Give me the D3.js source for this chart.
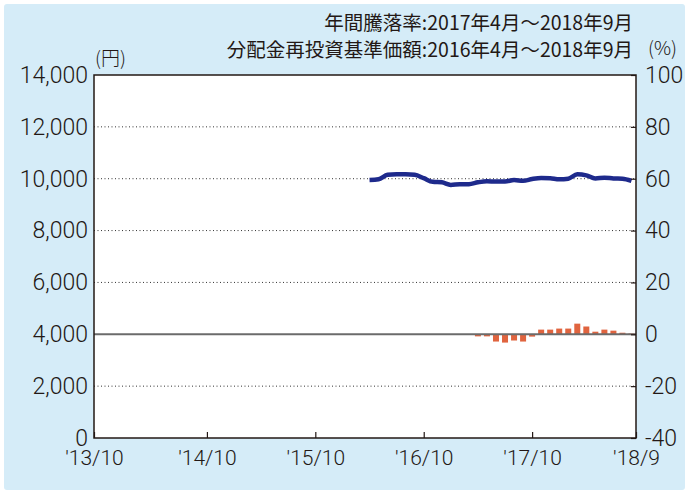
<!DOCTYPE html>
<html>
<head>
<meta charset="utf-8">
<script src="https://cdn.jsdelivr.net/npm/d3@7"></script>
<style>
  body { margin: 0; background: #fff; }
  svg { display: block; }
  text { font-family: "Noto Sans CJK JP", "Noto Sans", sans-serif; fill: #231815; }
</style>
</head>
<body>
<div id="chart"></div>
<script>
// 分配金再投資基準価額 (円), monthly 2016/4 - 2018/9
var navMonths = ["2016/4","2016/5","2016/6","2016/7","2016/8","2016/9","2016/10","2016/11","2016/12",
  "2017/1","2017/2","2017/3","2017/4","2017/5","2017/6","2017/7","2017/8","2017/9","2017/10","2017/11","2017/12",
  "2018/1","2018/2","2018/3","2018/4","2018/5","2018/6","2018/7","2018/8","2018/9"];
var navValues = [9950, 9980, 10150, 10170, 10170, 10150, 10020, 9880, 9860,
  9760, 9790, 9790, 9860, 9900, 9890, 9890, 9950, 9920, 9990, 10030, 10020,
  9980, 10000, 10170, 10130, 10010, 10040, 10010, 10000, 9920];

// 年間騰落率 (%), monthly 2017/4 - 2018/9
var retMonths = ["2017/4","2017/5","2017/6","2017/7","2017/8","2017/9","2017/10","2017/11","2017/12",
  "2018/1","2018/2","2018/3","2018/4","2018/5","2018/6","2018/7","2018/8","2018/9"];
var retValues = [-0.8, -0.8, -2.8, -3.2, -2.4, -2.8, -0.9, 1.8, 1.8,
  2.2, 2.2, 4.1, 3.0, 1.0, 1.8, 1.4, 0.6, 0.3];

var xTickValues = ["2013/10", "2014/10", "2015/10", "2016/10", "2017/10", "2018/9"];
var xTickLabels = ["'13/10", "'14/10", "'15/10", "'16/10", "'17/10", "'18/9"];
var leftTicks = [0, 2000, 4000, 6000, 8000, 10000, 12000, 14000];
var rightTicks = [-40, -20, 0, 20, 40, 60, 80, 100];

var width = 689, height = 493;
var plot = { left: 94, right: 636, top: 75, bottom: 438 };
var numFont = "Roboto, 'Liberation Sans', sans-serif";

// month index relative to 2013/10
function monthIndex(s) {
  var p = s.split("/");
  return (+p[0] - 2013) * 12 + (+p[1] - 10);
}

var svg = d3.select("#chart").append("svg")
  .attr("width", width)
  .attr("height", height);

// background panel
svg.append("rect")
  .attr("x", 4).attr("y", 4)
  .attr("width", width - 8).attr("height", height - 7)
  .attr("rx", 3)
  .attr("fill", "#d5ecf8");

svg.append("rect")
  .attr("x", plot.left).attr("y", plot.top)
  .attr("width", plot.right - plot.left).attr("height", plot.bottom - plot.top)
  .attr("fill", "#fff");

var x = d3.scaleLinear().domain([-0.5, 59.5]).range([plot.left, plot.right]);
var yL = d3.scaleLinear().domain([0, 14000]).range([plot.bottom, plot.top]);
var yR = d3.scaleLinear().domain([-40, 100]).range([plot.bottom, plot.top]);

// dotted grid
svg.append("g")
  .selectAll("line")
  .data(leftTicks.filter(function (d) { return d > 0 && d < 14000 && d !== 4000; }))
  .enter().append("line")
  .attr("x1", plot.left).attr("x2", plot.right)
  .attr("y1", function (d) { return yL(d); })
  .attr("y2", function (d) { return yL(d); })
  .attr("stroke", "#333")
  .attr("stroke-width", 1)
  .attr("stroke-dasharray", "1,2.5");

// bars
var barW = 6;
svg.append("g")
  .selectAll("rect")
  .data(retValues)
  .enter().append("rect")
  .attr("x", function (d, i) { return x(monthIndex(retMonths[i])) - barW / 2; })
  .attr("y", function (d) { return yR(Math.max(0, d)); })
  .attr("width", barW)
  .attr("height", function (d) { return Math.abs(yR(d) - yR(0)); })
  .attr("fill", "#e0643f");

// zero line
svg.append("line")
  .attr("x1", plot.left).attr("x2", plot.right)
  .attr("y1", yR(0)).attr("y2", yR(0))
  .attr("stroke", "#6b6b6b")
  .attr("stroke-width", 2);

// line
var line = d3.line()
  .x(function (d, i) { return x(monthIndex(navMonths[i])); })
  .y(function (d) { return yL(d); })
  .curve(d3.curveMonotoneX);

svg.append("path")
  .datum(navValues)
  .attr("d", line)
  .attr("fill", "none")
  .attr("stroke", "#1e2a8c")
  .attr("stroke-width", 4.5)
  .attr("stroke-linejoin", "round");

// frame
svg.append("rect")
  .attr("x", plot.left).attr("y", plot.top)
  .attr("width", plot.right - plot.left).attr("height", plot.bottom - plot.top)
  .attr("fill", "none")
  .attr("stroke", "#231815")
  .attr("stroke-width", 1.5);

// axes
var leftAxis = d3.axisLeft(yL)
  .tickValues(leftTicks)
  .tickSize(0)
  .tickPadding(6)
  .tickFormat(d3.format(","));
var gL = svg.append("g")
  .attr("transform", "translate(" + plot.left + ",0)")
  .call(leftAxis);

var rightAxis = d3.axisRight(yR)
  .tickValues(rightTicks)
  .tickSizeInner(-5)
  .tickSizeOuter(0)
  .tickPadding(9)
  .tickFormat(function (d) { return String(d); });
var gR = svg.append("g")
  .attr("transform", "translate(" + plot.right + ",0)")
  .call(rightAxis);

var xIdx = xTickValues.map(function (s, i) {
  if (i === 0) return -0.5;
  if (i === xTickValues.length - 1) return 59.5;
  return monthIndex(s);
});
var bottomAxis = d3.axisBottom(x)
  .tickValues(xIdx)
  .tickSizeInner(-6)
  .tickSizeOuter(0)
  .tickPadding(12)
  .tickFormat(function (d, i) { return xTickLabels[i]; });
var gB = svg.append("g")
  .attr("transform", "translate(0," + plot.bottom + ")")
  .call(bottomAxis);

[gL, gR, gB].forEach(function (g) {
  g.select(".domain").remove();
  g.selectAll(".tick line").attr("stroke", "#231815").attr("stroke-width", 1.2);
  g.selectAll(".tick text")
    .attr("fill", "#231815")
    .style("font-size", "23px")
    .style("font-weight", "300")
    .style("font-family", numFont);
});
gB.selectAll(".tick text").style("font-size", "21px");

// units and header
svg.append("text")
  .attr("x", 95).attr("y", 65)
  .style("font-size", "19px")
  .style("font-weight", "300")
  .text("(円)");

svg.append("text")
  .attr("x", 648).attr("y", 55)
  .style("font-size", "19px")
  .style("font-weight", "300")
  .text("(%)");

svg.append("text")
  .attr("x", 633).attr("y", 30)
  .attr("text-anchor", "end")
  .style("font-size", "19.5px")
  .text("年間騰落率:2017年4月～2018年9月");

svg.append("text")
  .attr("x", 633).attr("y", 57)
  .attr("text-anchor", "end")
  .style("font-size", "19.5px")
  .text("分配金再投資基準価額:2016年4月～2018年9月");
</script>
</body>
</html>
